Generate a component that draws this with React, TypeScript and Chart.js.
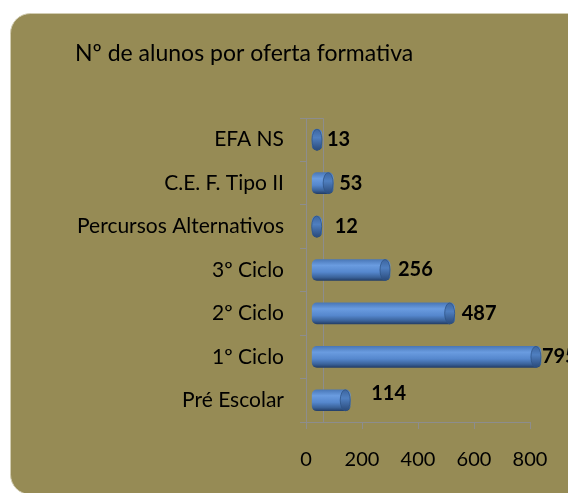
import { useEffect, useRef } from "react";
import { Chart, registerables } from "chart.js";

Chart.register(...registerables);

const chartTitle = "Nº de alunos por oferta formativa";
const categories = [
  "EFA NS",
  "C.E. F. Tipo II",
  "Percursos Alternativos",
  "3º Ciclo",
  "2º Ciclo",
  "1º Ciclo",
  "Pré Escolar",
];
const alunos = [13, 53, 12, 256, 487, 795, 114];
const xTickValues = [0, 200, 400, 600, 800];

// presentation-only nudges of the value labels (px)
const labelNudgeX = [5, 6, 13, 8, 7, 1, 21];
const labelNudgeY = [0, 0, 0, 0, 0, 0, -7];

const FONT = "Lato, 'Open Sans', sans-serif";
const AXIS = "#8d8d8d";
const OLIVE = "#968b55";
const TEXT = "#000000";

const panelPlugin = {
  id: "panel",
  beforeDraw(chart: any) {
    const { ctx, width, height } = chart;
    ctx.save();
    ctx.fillStyle = "#ffffff";
    ctx.fillRect(0, 0, width, height);
    ctx.beginPath();
    (ctx as any).roundRect(10.5, 13.5, 620, 481, 20);
    ctx.fillStyle = OLIVE;
    ctx.fill();
    ctx.strokeStyle = "#d2cdb3";
    ctx.lineWidth = 1;
    ctx.stroke();
    ctx.restore();
  },
};

const wallPlugin = {
  id: "wall",
  beforeDatasetsDraw(chart: any) {
    const { ctx, chartArea } = chart;
    const x = Math.round(chartArea.left + 17) + 0.5;
    const top = Math.round(chartArea.top) + 0.5;
    const bottom = Math.round(chartArea.bottom);
    ctx.save();
    ctx.strokeStyle = AXIS;
    ctx.lineWidth = 1;
    ctx.beginPath();
    ctx.moveTo(chartArea.left, top);
    ctx.lineTo(x, top);
    ctx.moveTo(x, top);
    ctx.lineTo(x, bottom);
    ctx.stroke();
    ctx.restore();
  },
};

const capPlugin = {
  id: "caps",
  afterDatasetsDraw(chart: any) {
    const { ctx } = chart;
    const meta = chart.getDatasetMeta(0);
    ctx.save();
    meta.data.forEach((bar: any, i: number) => {
      const { x, y, height } = bar.getProps(["x", "y", "height"], true);
      const rx = 5;
      const ry = height / 2;
      const g = ctx.createLinearGradient(0, y - ry, 0, y + ry);
      g.addColorStop(0, "#3d66a0");
      g.addColorStop(0.4, "#4f7fc0");
      g.addColorStop(1, "#2a4a7a");
      ctx.beginPath();
      ctx.ellipse(x - rx, y, rx, ry, 0, 0, Math.PI * 2);
      ctx.fillStyle = g;
      ctx.fill();
      ctx.strokeStyle = "#2f5487";
      ctx.lineWidth = 0.8;
      ctx.stroke();

      ctx.font = `bold 20px ${FONT}`;
      ctx.fillStyle = TEXT;
      ctx.textAlign = "left";
      ctx.textBaseline = "middle";
      ctx.fillText(String(alunos[i]), x + labelNudgeX[i], y + labelNudgeY[i]);
    });
    ctx.restore();
  },
};

const titlePlugin = {
  id: "ownTitle",
  afterDraw(chart: any) {
    const { ctx } = chart;
    ctx.save();
    ctx.font = `23px ${FONT}`;
    ctx.fillStyle = TEXT;
    ctx.textAlign = "left";
    ctx.textBaseline = "alphabetic";
    ctx.fillText(chartTitle, 75, 61);
    ctx.restore();
  },
};

export default function App() {
  const ref = useRef<HTMLCanvasElement | null>(null);

  useEffect(() => {
    if (!ref.current) return;
    const chart = new Chart(ref.current, {
      type: "bar",
      data: {
        labels: categories,
        datasets: [
          {
            label: "Nº de alunos",
            data: alunos,
            xAxisID: "x2",
            yAxisID: "y",
            base: -22,
            barThickness: 21,
            borderRadius: 5,
            borderSkipped: false,
            borderWidth: 0,
            clip: false as any,
            backgroundColor: (c: any) => {
              const chart = c.chart;
              if (!chart.chartArea || c.type !== "data") return "#4f81bd";
              const yc = chart.scales.y.getPixelForValue(c.dataIndex);
              const g = chart.ctx.createLinearGradient(0, yc - 10.5, 0, yc + 10.5);
              g.addColorStop(0, "#4a78b8");
              g.addColorStop(0.28, "#6a9ce0");
              g.addColorStop(0.6, "#5587cd");
              g.addColorStop(0.85, "#3a6299");
              g.addColorStop(1, "#243f69");
              return g;
            },
          } as any,
        ],
      },
      options: {
        indexAxis: "y",
        animation: false,
        responsive: false,
        devicePixelRatio: 1,
        layout: { padding: { top: 118, right: 38, left: 0, bottom: 0 } },
        plugins: {
          legend: { display: false },
          title: { display: false },
          tooltip: { enabled: false },
        },
        scales: {
          x: {
            type: "linear",
            position: "bottom",
            min: 0,
            max: 800,
            afterBuildTicks: (s: any) => {
              s.ticks = xTickValues.map((v) => ({ value: v }));
            },
            afterFit: (s: any) => {
              s.height = 71;
            },
            grid: {
              drawOnChartArea: false,
              drawTicks: true,
              tickLength: 7,
              color: AXIS,
              lineWidth: 1,
            },
            border: { display: true, color: AXIS, width: 1 },
            ticks: { padding: 19, color: TEXT, font: { family: FONT, size: 20 } },
          },
          x2: {
            type: "linear",
            display: false,
            min: -44,
            max: 756,
          },
          y: {
            type: "category",
            afterFit: (s: any) => {
              s.width = 306;
            },
            grid: {
              offset: true,
              drawOnChartArea: false,
              drawTicks: true,
              tickLength: 6,
              color: AXIS,
              lineWidth: 1,
            },
            border: { display: true, color: AXIS, width: 1 },
            ticks: { padding: 16, color: TEXT, font: { family: FONT, size: 21 } },
          },
        } as any,
      },
      plugins: [panelPlugin, wallPlugin, capPlugin, titlePlugin],
    });
    return () => chart.destroy();
  }, []);

  return (
    <div style={{ position: "absolute", left: 0, top: 0, width: 568, height: 493 }}>
      <canvas ref={ref} width={568} height={493} style={{ display: "block" }} />
    </div>
  );
}
